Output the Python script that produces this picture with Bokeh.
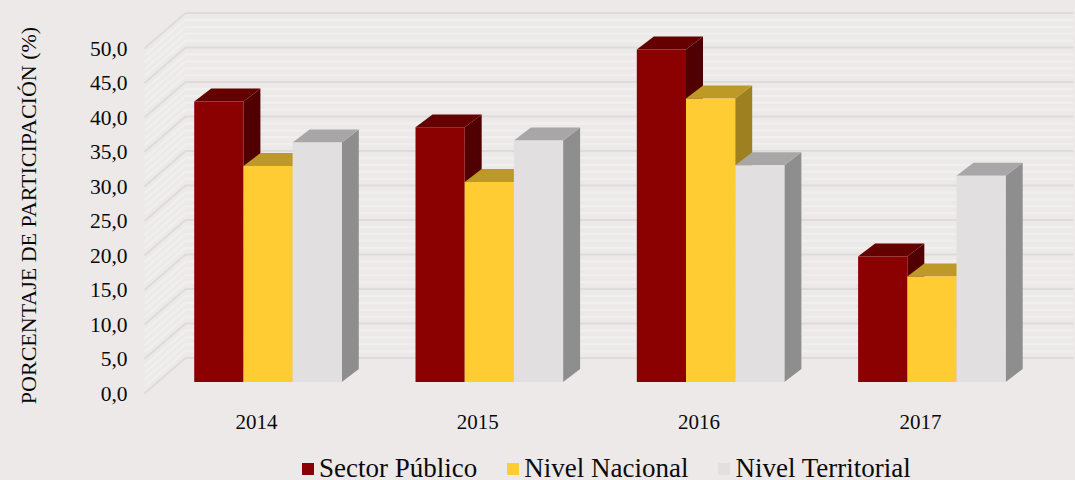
from math import pi
from bokeh.plotting import figure
from bokeh.embed import file_html
from bokeh.resources import INLINE
from bokeh.models import (ColumnDataSource, FixedTicker, Label, Legend, LegendItem, Range1d,
                          GlobalInlineStyleSheet)

years = ["2014", "2015", "2016", "2017"]
series_names = ["Sector Público", "Nivel Nacional", "Nivel Territorial"]
sector_publico = [40.65, 36.9, 48.2, 18.2]
nivel_nacional = [31.3, 29.0, 41.1, 15.3]
nivel_territorial = [34.7, 35.0, 31.4, 29.9]
y_ticks = [0, 5, 10, 15, 20, 25, 30, 35, 40, 45, 50]
y_title = "PORCENTAJE DE PARTICIPACIÓN (%)"

series_values = [sector_publico, nivel_nacional, nivel_territorial]
front_colors = ["#8B0000", "#FFCC33", "#E1DFE0"]
top_colors = ["#650000", "#BD9A26", "#A8A6A7"]
side_colors = ["#500000", "#9E8021", "#8E8E8E"]
BG = "#EDE9E9"

# pseudo-3D geometry, in data units
WALL_DX, WALL_DY = 0.185, 5.13
BASE_DX, BASE_DY = 0.052, 1.67
BAR_W = 0.2223
BAR_DX, BAR_DY = 0.0768, 1.88
X0, X1 = -0.506, 3.692

p = figure(width=1075, height=480, output_backend="svg", toolbar_location=None,
           x_range=Range1d(-256 / 221.3, 819 / 221.3), y_range=Range1d(-87 / 6.9, 393 / 6.9),
           min_border=0,
           background_fill_color=BG, border_fill_color=BG, outline_line_color=None)
p.stylesheets = [GlobalInlineStyleSheet(css=f"html,body{{margin:0;padding:0;background:{BG};overflow:hidden}}")]
p.grid.visible = False

# wall stripes and grid lines
minor_xs, minor_ys, major_xs, major_ys = [], [], [], []
for t in y_ticks:
    major_xs.append([X0, X0 + WALL_DX, X1])
    major_ys.append([t, t + WALL_DY, t + WALL_DY])
    if t < 50:
        for k in range(1, 5):
            minor_xs.append([X0, X0 + WALL_DX, X1])
            minor_ys.append([t + k, t + k + WALL_DY, t + k + WALL_DY])
p.multi_line(minor_xs, minor_ys, line_color="#F0EEEE", line_width=2.5)
p.multi_line(major_xs, major_ys, line_color="#DEDBDB", line_width=2)

# bars
renderers = []
for s, vals in enumerate(series_values):
    lefts = [i + BASE_DX - 1.5 * BAR_W + s * BAR_W for i in range(len(years))]
    rights = [l + BAR_W for l in lefts]
    tops = [v + BASE_DY for v in vals]
    side_x = [[r, r + BAR_DX, r + BAR_DX, r] for r in rights]
    side_y = [[BASE_DY, BASE_DY + BAR_DY, t + BAR_DY, t] for t in tops]
    top_x = [[l, l + BAR_DX, r + BAR_DX, r] for l, r in zip(lefts, rights)]
    top_y = [[t, t + BAR_DY, t + BAR_DY, t] for t in tops]
    p.patches(side_x, side_y, fill_color=side_colors[s], line_color=None)
    p.patches(top_x, top_y, fill_color=top_colors[s], line_color=None)
    src = ColumnDataSource(dict(left=lefts, right=rights, top=tops, bottom=[BASE_DY] * len(tops)))
    renderers.append(p.quad(left="left", right="right", top="top", bottom="bottom", source=src,
                            fill_color=front_colors[s], line_color=None))

# axes, placed inside the full-canvas frame
p.yaxis.fixed_location = X0
p.yaxis.ticker = FixedTicker(ticks=y_ticks)
p.yaxis.major_label_overrides = {t: f"{t:.1f}".replace(".", ",") for t in y_ticks}
p.yaxis.axis_line_color = None
p.yaxis.major_tick_line_color = None
p.yaxis.minor_tick_line_color = None
p.yaxis.major_label_text_font = "Liberation Serif"
p.yaxis.major_label_text_font_size = "21.5px"
p.yaxis.major_label_text_color = "#0A0A0A"
p.yaxis.major_label_standoff = 11

p.xaxis.fixed_location = 0
p.xaxis.ticker = FixedTicker(ticks=list(range(len(years))))
p.xaxis.major_label_overrides = {i: y for i, y in enumerate(years)}
p.xaxis.axis_line_color = None
p.xaxis.major_tick_line_color = None
p.xaxis.minor_tick_line_color = None
p.xaxis.major_label_text_font = "Liberation Serif"
p.xaxis.major_label_text_font_size = "21px"
p.xaxis.major_label_text_color = "#0A0A0A"
p.xaxis.major_label_standoff = 15

p.add_layout(Label(x=28, y=480 - 215, x_units="screen", y_units="screen", text=y_title,
                   angle=pi / 2, text_align="center", text_baseline="middle",
                   text_font="Liberation Serif", text_font_size="22px", text_color="#0A0A0A"))

legend = Legend(items=[LegendItem(label=n, renderers=[r]) for n, r in zip(series_names, renderers)],
                orientation="horizontal", location=(300, -4), spacing=28, padding=0, margin=0,
                glyph_width=15, glyph_height=15, label_standoff=4,
                label_text_font="Liberation Serif", label_text_font_size="27px",
                label_text_color="#0A0A0A", background_fill_alpha=0, border_line_color=None)
p.add_layout(legend, "center")

open("out.html", "w").write(file_html(p, INLINE))
